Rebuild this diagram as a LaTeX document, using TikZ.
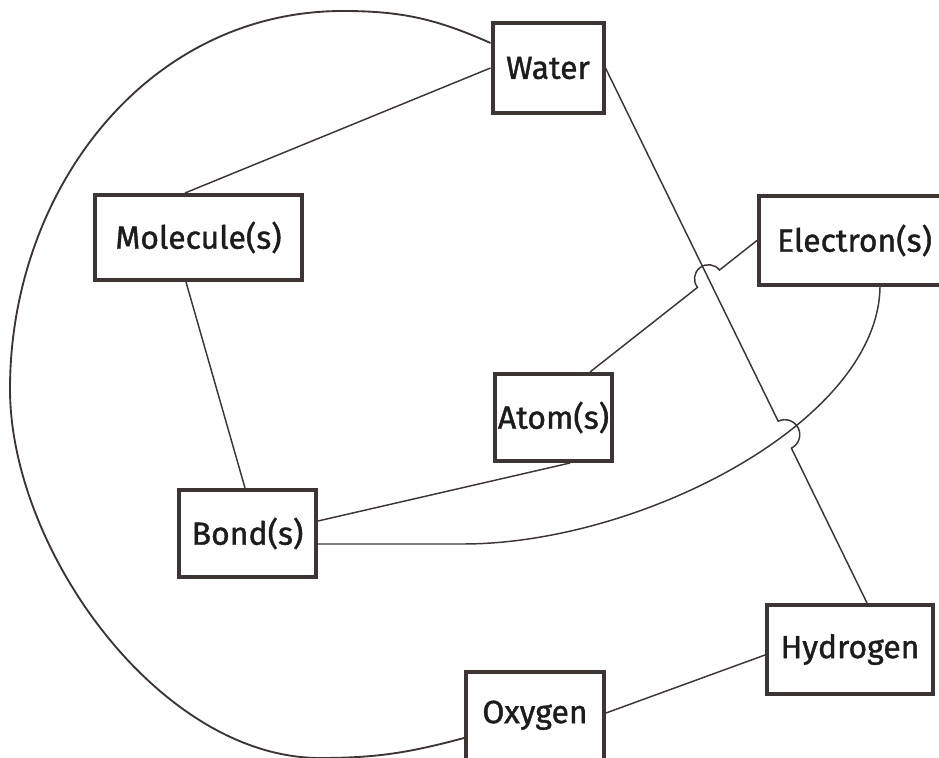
\documentclass[tikz,border=0pt]{standalone}
\usepackage{fontspec}
\setmainfont{Fira Sans}[FakeBold=1.2,AutoFakeBold=1.2]
\usetikzlibrary{calc,intersections}
\definecolor{boxline}{RGB}{61,53,51}
\definecolor{ink}{RGB}{28,28,28}

\begin{document}
\begin{tikzpicture}[x=0.75pt,y=0.75pt,
  box/.style={draw=boxline,line width=3pt,text=ink,inner sep=0pt,
    font=\fontsize{24}{28}\selectfont\bfseries},
  link/.style={draw=boxline,line width=1.1pt}]

\useasboundingbox (0,0) rectangle (939,757);
\clip (0,0) rectangle (939,757);

\node(water)[box,minimum width=83.25pt,minimum height=67.5pt] at (548,689){Water};

\node(molecule)[box,minimum width=155.25pt,minimum height=63.75pt] at (198.5,519.5){Molecule(s)};

\node(electron)[box,minimum width=143.25pt,minimum height=66.75pt] at (854.5,516.5){Electron(s)};

\node(atom)[box,minimum width=87.75pt,minimum height=65.25pt] at (553.5,339.5){Atom(s)};

\node(bond)[box,minimum width=102.75pt,minimum height=65.25pt] at (247.5,223.5){Bond(s)};

\node(hydrogen)[box,minimum width=124.5pt,minimum height=66.75pt] at (850,107.5){Hydrogen};

\node(oxygen)[box,minimum width=103.5pt,minimum height=75pt,text height=16pt,text depth=14.4pt] at (535,35){Oxygen};

\coordinate (atomtop) at ($(atom.north)+(36.5,0)$);
\coordinate (hydtop) at ($(hydrogen.north)+(17,0)$);
\coordinate (bend) at (463,213);

\coordinate (arctop) at (343,746);
\coordinate (arcleft) at (10,368);
\coordinate (arcbottom) at (320,-1);

% big loop from water round to oxygen
\draw[link,line width=1.4pt] ($(water.west)+(0,25)$) to[out=156,in=0] (arctop)
  to[out=180,in=90] (arcleft) to[out=-90,in=180,looseness=0.85] (arcbottom)
  to[out=0,in=195] ($(oxygen.west)+(0,-16)$);

\draw[link] (water.west) -- ($(molecule.north)+(-13.5,0)$);
\draw[link] ($(molecule.south)+(-12.5,0)$) -- ($(bond.north)+(-2.5,0)$);
\draw[link] ($(atom.south)+(16.5,0)$) -- ($(bond.east)+(0,12.5)$);
\draw[link] ($(hydrogen.west)+(0,-5.5)$) -- ($(oxygen.east)+(0,9)$);

\draw[link,name path=curve] ($(electron.south)+(25.5,0)$) .. controls +(-2,-135) and +(177,0) .. (bend)
  -- ($(bond.east)+(0,-10.5)$);

% crossings, with hops
\path[name path=wh] (water.east) -- (hydtop);
\path[name path=ea] (electron.west) -- (atomtop);
\path[name intersections={of=wh and ea,by=x1}];
\path[name intersections={of=wh and curve,by=x2}];

\draw[link] (electron.west) -- ($(x1)!10.5pt!(electron.west)$)
  arc[start angle=38.31,end angle=218.31,radius=10.5pt] -- (atomtop);

\draw[link] (water.east) -- ($(x2)!11.25pt!(water.east)$)
  arc[start angle=116.14,end angle=-63.86,radius=11.25pt] -- (hydtop);

\end{tikzpicture}
\end{document}
